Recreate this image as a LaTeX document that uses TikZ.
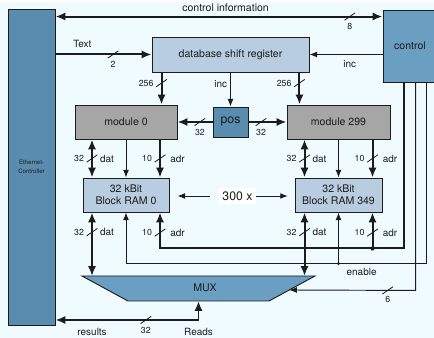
\documentclass[tikz,border=0pt]{standalone}
\usepackage{fontspec}
\setmainfont{TeX Gyre Heros}
\usepackage{tikz}
\usetikzlibrary{positioning,arrows.meta,calc}
\definecolor{paper}{HTML}{F0FBFF}
\definecolor{ether}{HTML}{5A8CB0}
\definecolor{ctrlblue}{HTML}{6A9FC2}
\definecolor{memblue}{HTML}{B8CDE0}
\definecolor{modgrey}{HTML}{A6A6A6}
\definecolor{ink}{HTML}{1C1C1C}
\tikzset{
    block/.style={rectangle, draw=ink, line width=0.8pt, align=center, text=ink, inner sep=1pt, font=\fontsize{9}{10.5}\selectfont},
    bus/.style={line width=1.7pt, draw=ink},
    wire/.style={line width=0.8pt, draw=ink},
    busarrow/.style={bus, -{Latex[length=8.5pt,width=7pt]}},
    busboth/.style={bus, {Latex[length=8.5pt,width=7pt]}-{Latex[length=8.5pt,width=7pt]}},
    wirearrow/.style={wire, -{Latex[length=6.5pt,width=5pt]}},
    num/.style={inner sep=1pt, text=ink, font=\fontsize{7.5}{8}\selectfont},
    tag/.style={inner sep=1pt, text=ink, font=\fontsize{8.5}{9}\selectfont},
    buswidth/.pic={\draw[-, ink, line width=0.7pt, shorten >=0pt, shorten <=0pt] (-0.16,-0.11) -- (0.16,0.11);}
}

\begin{document}
\begin{tikzpicture}

\useasboundingbox (0,0) rectangle (13.02,10.14);
\fill[paper] (0,0) rectangle (13.02,10.08);

% Outer units
\node[block, fill=ether, minimum width=1.41cm, minimum height=9.48cm, font=\fontsize{5.2}{7.8}\selectfont] (eth) at (0.945,5.13) {Ethernet-\\Controller};
\node[block, fill=ctrlblue, minimum width=1.62cm, minimum height=2.16cm] (ctrl) at (12.3,8.76) {control};

% Shift register, position counter, modules
\node[block, fill=memblue, minimum width=4.71cm, minimum height=1.05cm] (db) at (6.915,8.505) {database shift register};
\node[block, fill=ether, minimum width=1.05cm, minimum height=0.9cm, font=\fontsize{10.5}{12}\selectfont] (pos) at (6.915,6.48) {pos};
\node[block, fill=modgrey, minimum width=3.06cm, minimum height=1.02cm] (mod0) at (3.78,6.48) {module 0};
\node[block, fill=modgrey, minimum width=3.09cm, minimum height=1.02cm] (mod299) at (10.155,6.48) {module 299};

% Block RAMs
\node[block, fill=memblue, minimum width=2.58cm, minimum height=1.02cm] (ram0) at (3.78,4.29) {32 kBit\\Block RAM 0};
\node[block, fill=memblue, minimum width=2.61cm, minimum height=1.02cm] (ram349) at (10.155,4.29) {32 kBit\\Block RAM 349};
\node[fill=white, inner sep=3pt, text=ink, font=\fontsize{10.5}{12}\selectfont] (times) at (7.125,4.26) {300 x};

% MUX
\coordinate (muxtl) at (2.46,1.86);
\coordinate (muxtr) at (9.45,1.86);
\coordinate (muxbr) at (8.07,1.11);
\coordinate (muxbl) at (3.84,1.11);
\filldraw[fill=ctrlblue, draw=ink, line width=0.8pt] (muxtl) -- (muxtr) -- (muxbr) -- (muxbl) -- cycle;
\node[text=ink, font=\fontsize{9}{10}\selectfont] (mux) at (6.15,1.50) {MUX};
\coordinate (muxbot) at ($(muxbl)!0.5!(muxbr)$);
\coordinate (mux6) at ($(muxtr)!0.56!(muxbr)$);

% Top connections
\draw[busboth] ([yshift=-0.21cm]ctrl.north west) -- ([yshift=-0.21cm]ctrl.north west -| eth.east)
    pic[pos=0.1]{buswidth} node[pos=0.1, num, below=4pt]{8}
    node[pos=0.48, tag, above=2.5pt, font=\fontsize{9}{10}\selectfont]{control information};
\draw[busarrow] (eth.east |- db.west) -- (db.west)
    pic[pos=0.6]{buswidth} node[pos=0.6, num, below=4pt]{2}
    node[pos=0.28, tag, above=4pt]{Text};
\draw[wirearrow] (ctrl.west |- db.east) -- (db.east) node[pos=0.45, tag, below=3.5pt]{inc};

% Shift register to modules
\draw[busarrow] ([xshift=0.3cm]db.south west) -- ([xshift=0.3cm]db.south west |- mod0.north)
    pic[pos=0.33]{buswidth} node[pos=0.33, num, left=5pt]{256};
\draw[busarrow] ([xshift=-0.3cm]db.south east) -- ([xshift=-0.3cm]db.south east |- mod299.north)
    pic[pos=0.33]{buswidth} node[pos=0.33, num, left=5pt]{256};
\draw[wirearrow] (db.south) -- (pos.north) node[pos=0.34, tag, left=1.5pt]{inc};
\draw[busarrow] (pos.west) -- (mod0.east) pic[pos=0.36]{buswidth} node[pos=0.36, num, below=4pt]{32};
\draw[busarrow] (pos.east) -- (mod299.west) pic[pos=0.33]{buswidth} node[pos=0.33, num, below=4pt]{32};

% Modules to block RAMs
\draw[busboth] ([xshift=-1.02cm]mod0.south) -- ([xshift=-1.02cm]ram0.north)
    pic[pos=0.5]{buswidth} node[pos=0.5, num, left=5pt]{32} node[pos=0.5, tag, right=5pt]{dat};
\draw[wirearrow] (mod0.south) -- (ram0.north);
\draw[busarrow] ([xshift=1.02cm]mod0.south) -- ([xshift=1.02cm]ram0.north)
    pic[pos=0.5]{buswidth} node[pos=0.5, num, left=5pt]{10} node[pos=0.5, tag, right=7pt]{adr};
\draw[busboth] ([xshift=-1.02cm]mod299.south) -- ([xshift=-1.02cm]ram349.north)
    pic[pos=0.5]{buswidth} node[pos=0.5, num, left=5pt]{32} node[pos=0.5, tag, right=5pt]{dat};
\draw[wirearrow] (mod299.south) -- (ram349.north);
\draw[busarrow] ([xshift=1.02cm]mod299.south) -- ([xshift=1.02cm]ram349.north)
    pic[pos=0.5]{buswidth} node[pos=0.5, num, left=5pt]{10} node[pos=0.5, tag, right=7pt]{adr};

% 300 x
\draw[wirearrow, shorten <=0.27cm, shorten >=0.24cm] (times.west) -- (times.west -| ram0.east);
\draw[wirearrow, shorten >=0.2cm] (times.east) -- (times.east -| ram349.west);

% Block RAMs to MUX
\draw[busboth] ([xshift=-1.02cm]ram0.south) -- ([xshift=-1.02cm]ram0.south |- muxtl)
    pic[pos=0.31]{buswidth} node[pos=0.31, num, left=5pt]{32} node[pos=0.31, tag, right=5pt]{dat};
\draw[busboth] ([xshift=-1.02cm]ram349.south) -- ([xshift=-1.02cm]ram349.south |- muxtl)
    pic[pos=0.31]{buswidth} node[pos=0.31, num, left=5pt]{32} node[pos=0.31, tag, right=5pt]{dat};

% Control lines
\draw[busarrow] ([xshift=0.63cm]ctrl.south west) -- ++(0,-4.98) coordinate (adrcorner) -| ([xshift=1.02cm]ram0.south)
    pic[pos=0.72]{buswidth} node[pos=0.72, num, left=5pt]{10} node[pos=0.72, tag, right=7pt]{adr};
\draw[busarrow] ([xshift=1.02cm]ram349.south |- adrcorner) -- ([xshift=1.02cm]ram349.south)
    pic[pos=0.44]{buswidth} node[pos=0.44, num, left=5pt]{10} node[pos=0.44, tag, right=7pt]{adr};
\fill[ink] ([xshift=1.02cm]ram349.south |- adrcorner) circle (1.8pt);
\draw[wirearrow] ([xshift=1.32cm]ctrl.south west) -- ++(0,-5.43) coordinate (encorner) -| (ram0.south)
    node[pos=0.108, tag, below=2.7pt]{enable};
\draw[wirearrow] (ram349.south |- encorner) -- (ram349.south);
\fill[ink] (ram349.south |- encorner) circle (1.4pt);
\draw[wirearrow] ([xshift=0.99cm]ctrl.south west) -- ++(0,-6.24) -- (mux6)
    pic[pos=0.22]{buswidth} node[pos=0.22, num, below=4pt]{6};

% Results
\draw[busboth] (eth.east |- 0,0.54) -| (muxbot)
    pic[pos=0.316]{buswidth} node[pos=0.316, num, below=4pt]{32}
    node[pos=0.128, tag, below=5.5pt]{results} node[pos=0.5, tag, below=5.5pt]{Reads};

\end{tikzpicture}
\end{document}
